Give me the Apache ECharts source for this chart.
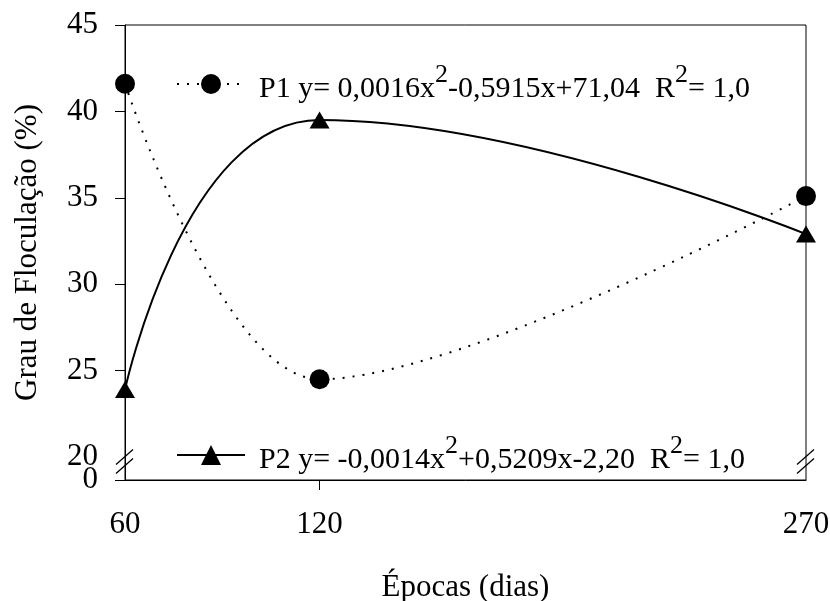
<!DOCTYPE html>
<html><head><meta charset="utf-8">
<script src="https://cdn.jsdelivr.net/npm/echarts@6/dist/echarts.min.js"></script>
<style>html,body{margin:0;padding:0;background:#fff}#c{width:830px;height:601px}</style>
</head><body><div id="c"></div>
<script>
// Data
const epocas = [60, 120, 270];          // Épocas (dias)
const p1 = [41.6, 24.5, 35.1];          // P1, Grau de Floculação (%)
const p2 = [23.9, 39.5, 32.9];          // P2, Grau de Floculação (%)
const xLabelValues = [60, 120, 270];
const xTickValues = [120];
const yLabelValues = [20, 25, 30, 35, 40, 45];
const yTickValues = [25, 30, 35, 40, 45];
const yAxisBottom = 18.67;              // broken axis: bottom is labelled "0"
const yBottomLabel = '0';
const breakValue = 19.8;

const F = 'Liberation Serif';
const chart = echarts.init(document.getElementById('c'), null, {renderer: 'canvas'});

function legendRich() {
  return {
    t: {fontFamily: F, fontSize: 30, color: '#000', lineHeight: 30, padding: [10, 0, 0, 0]},
    t0: {fontFamily: F, fontSize: 30, color: '#000', lineHeight: 30, padding: [10, 0, 0, 9]},
    s: {fontFamily: F, fontSize: 26, color: '#000', lineHeight: 26, padding: [0, 0, 18, 0]}
  };
}

const option = {
  animation: false,
  backgroundColor: '#fff',
  grid: {left: 125, right: 24, top: 25, bottom: 121, show: true, borderColor: '#000', borderWidth: 1,
         backgroundColor: 'transparent', outerBoundsMode: 'none', containLabel: false},
  xAxis: {
    type: 'value', min: 60, max: 270,
    name: 'Épocas (dias)', nameLocation: 'middle', nameGap: 92,
    nameTextStyle: {fontFamily: F, fontSize: 31, color: '#000'},
    axisLine: {show: true, lineStyle: {color: '#000', width: 1}},
    axisTick: {show: true, length: 10, lineStyle: {color: '#000'}, customValues: xTickValues},
    axisLabel: {fontFamily: F, fontSize: 31, color: '#000', margin: 29, customValues: xLabelValues},
    splitLine: {show: false}
  },
  yAxis: [
    {
      type: 'value', min: yAxisBottom, max: 45,
      name: 'Grau de Floculação (%)', nameLocation: 'middle', nameGap: 82,
      nameTextStyle: {fontFamily: F, fontSize: 31, color: '#000'},
      axisLine: {show: true, lineStyle: {color: '#000', width: 1}},
      axisTick: {show: true, length: 10, lineStyle: {color: '#000'}, customValues: [yAxisBottom].concat(yTickValues)},
      axisLabel: {
        fontFamily: F, fontSize: 31, color: '#000', margin: 27,
        showMinLabel: true, showMaxLabel: true, hideOverlap: false,
        customValues: yLabelValues,
        formatter: v => String(Math.round(v))
      },
      splitLine: {show: false}
    },
    {
      // carries only the "0" label of the broken axis
      type: 'value', min: yAxisBottom, max: 45, position: 'left',
      axisLine: {show: false}, axisTick: {show: false}, splitLine: {show: false},
      axisLabel: {
        fontFamily: F, fontSize: 31, color: '#000', margin: 27,
        showMinLabel: true, hideOverlap: false,
        customValues: [yAxisBottom],
        formatter: () => yBottomLabel
      }
    }
  ],
  legend: [
    {
      data: ['P1'], left: 176, top: 62, itemWidth: 68, itemHeight: 25, padding: 0,
      formatter: () => '{t0|P1 y= 0,0016x}{s|2}{t|-0,5915x+71,04  R}{s|2}{t|= 1,0}',
      textStyle: {fontFamily: F, fontSize: 30, color: '#000', rich: legendRich()}
    },
    {
      data: ['P2'], left: 176, top: 433, itemWidth: 68, itemHeight: 25, padding: 0,
      formatter: () => '{t0|P2 y= -0,0014x}{s|2}{t|+0,5209x-2,20  R}{s|2}{t|= 1,0}',
      textStyle: {fontFamily: F, fontSize: 30, color: '#000', rich: legendRich()}
    }
  ],
  series: [
    {
      name: 'P1', type: 'line', smooth: 0.35,
      data: epocas.map((x, i) => [x, p1[i]]),
      symbol: 'circle', symbolSize: 20,
      itemStyle: {color: '#000'},
      lineStyle: {color: '#000', width: 2, type: [2, 8]}
    },
    {
      name: 'P2', type: 'line', smooth: 0.5,
      data: epocas.map((x, i) => [x, p2[i]]),
      symbol: 'triangle', symbolSize: [20, 17],
      itemStyle: {color: '#000'},
      lineStyle: {color: '#000', width: 2, type: 'solid'}
    }
  ]
};
chart.setOption(option);

// axis break marks "//" on left and right axes
function breakMark(xv) {
  const p = chart.convertToPixel({gridIndex: 0}, [xv, breakValue]);
  const mk = (dy) => ({
    type: 'line', silent: true,
    shape: {x1: p[0] - 9, y1: p[1] + 8 + dy, x2: p[0] + 8, y2: p[1] - 7 + dy},
    style: {stroke: '#000', lineWidth: 1.3}
  });
  return [mk(-4), mk(5)];
}
chart.setOption({graphic: breakMark(60).concat(breakMark(270))});
</script>
</body></html>
